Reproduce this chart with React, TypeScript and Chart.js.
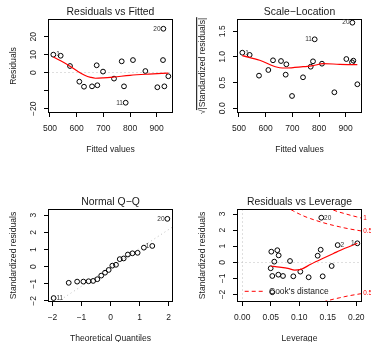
import React, { useEffect, useRef } from "react";
import { Chart, registerables } from "chart.js";

Chart.register(...registerables);

const W = 371;
const H = 342;
const FONT = '"Liberation Sans", Arial, Helvetica, sans-serif';
const TEXT = "#1a1a1a";
const RED = "#ff0000";

// ---------- data: Residuals vs Fitted / Scale-Location ----------
const fitted = [512.5, 540, 575, 610, 627.5, 657.5, 675, 677.5, 698.8, 740, 768.8, 777.4, 783.7, 811, 857.5, 902.4, 925, 923.6, 928.7, 943.6];
const residuals = [10.0, 9.4, 3.7, -5.0, -7.8, -7.6, 4.1, -7.0, 0.6, -3.3, 6.3, -7.6, -16.7, 7.0, 0.9, -8.1, 24.4, 7.0, -7.6, -2.0];
const sqrtAbsStdResid = [1.083, 1.04, 0.636, 0.746, 0.935, 0.921, 0.655, 0.857, 0.24, 0.604, 0.81, 0.915, 1.344, 0.869, 0.312, 0.96, 1.668, 0.896, 0.928, 0.468];
const smoothResX = [512.5, 540, 575, 602.5, 630, 652.5, 670, 700, 740, 800, 870, 943.6];
const smoothResY = [8.7, 6.6, 3.6, 0.9, -1.4, -2.6, -3.1, -2.9, -2.4, -1.5, -0.8, -0.2];
const smoothScaleX = [512.5, 577.5, 652.5, 677.5, 740, 777.5, 815, 877.5, 943.6];
const smoothScaleY = [1.025, 0.935, 0.79, 0.785, 0.81, 0.83, 0.87, 0.857, 0.85];

// ---------- data: Normal Q-Q ----------
const theoreticalQ = [-1.96, -1.44, -1.15, -0.935, -0.755, -0.598, -0.454, -0.319, -0.189, -0.063, 0.063, 0.189, 0.319, 0.454, 0.598, 0.755, 0.935, 1.15, 1.44, 1.96];
const sortedStdResid = [-1.83, -0.94, -0.87, -0.87, -0.85, -0.83, -0.73, -0.52, -0.35, -0.19, 0.06, 0.11, 0.44, 0.48, 0.71, 0.78, 0.81, 1.11, 1.21, 2.79];
const qqLineX = [-2.3, 2.3];
const qqLineY = [-2.57, 2.49];

// ---------- data: Residuals vs Leverage ----------
const leverage = [0.0498, 0.0509, 0.0526, 0.0526, 0.0561, 0.0614, 0.0638, 0.0632, 0.0714, 0.0837, 0.0895, 0.1018, 0.1164, 0.1322, 0.1375, 0.1386, 0.141, 0.1568, 0.1673, 0.2018];
const levStdResid = [-0.37, 0.66, -0.85, -1.86, 0.04, 0.75, 0.43, -0.77, -0.85, 0.08, -0.87, -0.58, -0.93, 0.41, 0.78, 2.77, -0.87, -0.23, 1.07, 1.18];
const smoothLevX = [0.0498, 0.065, 0.08, 0.092, 0.101, 0.12, 0.14, 0.16, 0.18, 0.2018];
const smoothLevY = [-0.23, -0.3, -0.38, -0.48, -0.46, -0.12, 0.22, 0.55, 0.87, 1.18];
const cookH = [0.075, 0.08, 0.09, 0.1, 0.11, 0.12, 0.13, 0.14, 0.15, 0.16, 0.17, 0.18, 0.19, 0.2, 0.21];
const cookHalfUpper = [3.51, 3.39, 3.18, 3.0, 2.84, 2.71, 2.59, 2.48, 2.38, 2.29, 2.21, 2.13, 2.06, 2.0, 1.94];
const cookOneUpper = [4.96, 4.8, 4.5, 4.24, 4.02, 3.83, 3.66, 3.5, 3.37, 3.24, 3.12, 3.02, 2.92, 2.83, 2.74];
const cookHalfLower = [-3.51, -3.39, -3.18, -3.0, -2.84, -2.71, -2.59, -2.48, -2.38, -2.29, -2.21, -2.13, -2.06, -2.0, -1.94];
const cookLabelText = ["1", "0.5", "0.5"];
const cookLabelY = [2.75, 1.94, -1.94];

// ---------- ticks ----------
const fittedTicks = [500, 600, 700, 800, 900];
const fittedTickLabels = ["500", "600", "700", "800", "900"];
const residTicks = [-20, -10, 0, 10, 20];
const residTickLabels = ["\u221220", null, "0", "10", "20"];
const scaleTicks = [0, 0.5, 1, 1.5];
const scaleTickLabels = ["0.0", "0.5", "1.0", "1.5"];
const qTicks = [-2, -1, 0, 1, 2];
const qTickLabels = ["\u22122", "\u22121", "0", "1", "2"];
const stdTicks = [-2, -1, 0, 1, 2, 3];
const stdTickLabels = ["\u22122", "\u22121", "0", "1", "2", "3"];
const levTicks = [0, 0.05, 0.1, 0.15, 0.2];
const levTickLabels = ["0.00", "0.05", "0.10", "0.15", "0.20"];

// ---------- point identification labels ----------
const idxRes = [16, 12, 0];
const txtRes = ["20", "11", "1"];
const sideRes = ["l", "l", "r"];
const idxQQ = [19, 0, 18];
const txtQQ = ["20", "11", "1"];
const sideQQ = ["l", "r", "l"];
const idxLev = [15, 18, 19];
const txtLev = ["20", "2", "1"];
const sideLev = ["r", "r", "l"];

const pts = (xs: number[], ys: number[]) => xs.map((x, i) => ({ x, y: ys[i] }));

const scatterDs = (data: any) => ({
  data,
  showLine: false,
  pointStyle: "circle",
  pointRadius: 2.4,
  pointBorderWidth: 1,
  pointBorderColor: "#000",
  pointBackgroundColor: "rgba(0,0,0,0)",
});

const lineDs = (data: any, color: string, width: number, dash: number[] = []) => ({
  data,
  showLine: true,
  pointRadius: 0,
  borderColor: color,
  borderWidth: width,
  borderDash: dash,
  fill: false,
  cubicInterpolationMode: "monotone",
});

type Spec = {
  key: string;
  box: { left: number; top: number; right: number; bottom: number };
  xr: [number, number];
  yr: [number, number];
  xTicks: number[];
  xLabels: (string | null)[];
  yTicks: number[];
  yLabels: (string | null)[];
  title: string;
  xTitle: string;
  yTitle: string;
  sqrtTitle?: boolean;
  hZero?: boolean;
  vZero?: boolean;
  datasets: any[];
  ids: { x: number; y: number; t: string; side: string }[];
  cook?: boolean;
};

const mkIds = (xs: number[], ys: number[], idx: number[], txt: string[], side: string[]) =>
  idx.map((k, i) => ({ x: xs[k], y: ys[k], t: txt[i], side: side[i] }));

const specs: Spec[] = [
  {
    key: "p1",
    box: { left: 48.5, top: 19.5, right: 172.5, bottom: 112.5 },
    xr: [494.4, 959.2],
    yr: [-22.13, 29.54],
    xTicks: fittedTicks,
    xLabels: fittedTickLabels,
    yTicks: residTicks,
    yLabels: residTickLabels,
    title: "Residuals vs Fitted",
    xTitle: "Fitted values",
    yTitle: "Residuals",
    hZero: true,
    datasets: [
      lineDs(pts(smoothResX, smoothResY), RED, 1.2),
      scatterDs(pts(fitted, residuals)),
    ],
    ids: mkIds(fitted, residuals, idxRes, txtRes, sideRes),
  },
  {
    key: "p2",
    box: { left: 237.5, top: 19.5, right: 361.5, bottom: 112.5 },
    xr: [494.4, 959.2],
    yr: [-0.082, 1.73],
    xTicks: fittedTicks,
    xLabels: fittedTickLabels,
    yTicks: scaleTicks,
    yLabels: scaleTickLabels,
    title: "Scale\u2212Location",
    xTitle: "Fitted values",
    yTitle: "|Standardized residuals|",
    sqrtTitle: true,
    datasets: [
      lineDs(pts(smoothScaleX, smoothScaleY), RED, 1.2),
      scatterDs(pts(fitted, sqrtAbsStdResid)),
    ],
    ids: mkIds(fitted, sqrtAbsStdResid, idxRes, txtRes, sideRes),
  },
  {
    key: "p3",
    box: { left: 48.5, top: 209.5, right: 172.5, bottom: 301.5 },
    xr: [-2.137, 2.137],
    yr: [-2.03, 3.335],
    xTicks: qTicks,
    xLabels: qTickLabels,
    yTicks: stdTicks,
    yLabels: stdTickLabels,
    title: "Normal Q\u2212Q",
    xTitle: "Theoretical Quantiles",
    yTitle: "Standardized residuals",
    datasets: [
      scatterDs(pts(theoreticalQ, sortedStdResid)),
      lineDs(pts(qqLineX, qqLineY), "#bebebe", 1, [1, 3]),
    ],
    ids: mkIds(theoreticalQ, sortedStdResid, idxQQ, txtQQ, sideQQ),
  },
  {
    key: "p4",
    box: { left: 237.5, top: 209.5, right: 361.5, bottom: 301.5 },
    xr: [-0.00842, 0.2091],
    yr: [-2.435, 3.28],
    xTicks: levTicks,
    xLabels: levTickLabels,
    yTicks: stdTicks,
    yLabels: stdTickLabels,
    title: "Residuals vs Leverage",
    xTitle: "Leverage",
    yTitle: "Standardized residuals",
    hZero: true,
    vZero: true,
    cook: true,
    datasets: [
      lineDs(pts(smoothLevX, smoothLevY), RED, 1.2),
      scatterDs(pts(leverage, levStdResid)),
      lineDs(pts(cookH, cookHalfUpper), RED, 1, [4, 3]),
      lineDs(pts(cookH, cookOneUpper), RED, 1, [4, 3]),
      lineDs(pts(cookH, cookHalfLower), RED, 1, [4, 3]),
    ],
    ids: mkIds(leverage, levStdResid, idxLev, txtLev, sideLev),
  },
];

const crisp = (v: number) => Math.floor(v) + 0.5;

const makePlugin = (s: Spec) => ({
  id: "rplot_" + s.key,
  beforeDatasetsDraw(chart: any) {
    const { ctx, chartArea: a, scales } = chart;
    const x = scales.x;
    const y = scales.y;
    ctx.save();
    ctx.beginPath();
    ctx.rect(a.left, a.top, a.right - a.left, a.bottom - a.top);
    ctx.clip();
    ctx.strokeStyle = "#bebebe";
    ctx.lineWidth = 1;
    ctx.setLineDash([1, 3]);
    if (s.hZero) {
      const py = crisp(y.getPixelForValue(0));
      ctx.beginPath();
      ctx.moveTo(a.left, py);
      ctx.lineTo(a.right, py);
      ctx.stroke();
    }
    if (s.vZero) {
      const px = crisp(x.getPixelForValue(0));
      ctx.beginPath();
      ctx.moveTo(px, a.top);
      ctx.lineTo(px, a.bottom);
      ctx.stroke();
    }
    ctx.restore();
  },
  afterDraw(chart: any) {
    const { ctx, chartArea: a, scales } = chart;
    const x = scales.x;
    const y = scales.y;
    ctx.save();
    ctx.setLineDash([]);
    ctx.strokeStyle = "#000";
    ctx.lineWidth = 1;
    // box
    ctx.strokeRect(a.left, a.top, a.right - a.left, a.bottom - a.top);
    // x axis ticks + labels
    ctx.fillStyle = TEXT;
    ctx.font = `8.5px ${FONT}`;
    ctx.textAlign = "center";
    ctx.textBaseline = "alphabetic";
    s.xTicks.forEach((v, i) => {
      const px = crisp(x.getPixelForValue(v));
      ctx.beginPath();
      ctx.moveTo(px, a.bottom);
      ctx.lineTo(px, a.bottom + 4.5);
      ctx.stroke();
      const lab = s.xLabels[i];
      if (lab) ctx.fillText(lab, x.getPixelForValue(v), a.bottom + 18.5);
    });
    // y axis ticks + labels
    s.yTicks.forEach((v, i) => {
      const py = crisp(y.getPixelForValue(v));
      ctx.beginPath();
      ctx.moveTo(a.left, py);
      ctx.lineTo(a.left - 4.5, py);
      ctx.stroke();
      const lab = s.yLabels[i];
      if (lab) {
        ctx.save();
        ctx.translate(a.left - 12.3, y.getPixelForValue(v));
        ctx.rotate(-Math.PI / 2);
        ctx.fillText(lab, 0, 0);
        ctx.restore();
      }
    });
    // title
    ctx.font = `10.4px ${FONT}`;
    ctx.fillText(s.title, (a.left + a.right) / 2, a.top - 4.2);
    // x title
    ctx.font = `8.6px ${FONT}`;
    ctx.fillText(s.xTitle, (a.left + a.right) / 2, a.bottom + 39.8);
    // y title
    ctx.save();
    ctx.translate(a.left - 32.5, (a.top + a.bottom) / 2);
    ctx.rotate(-Math.PI / 2);
    if (s.sqrtTitle) {
      const root = "\u221A";
      const rw = ctx.measureText(root).width;
      const tw = ctx.measureText(s.yTitle).width;
      const total = rw + tw;
      ctx.textAlign = "left";
      ctx.fillText(root, -total / 2, 0);
      ctx.fillText(s.yTitle, -total / 2 + rw, 0);
      ctx.beginPath();
      ctx.moveTo(-total / 2 + rw - 0.5, -8.3);
      ctx.lineTo(total / 2 + 0.5, -8.3);
      ctx.stroke();
    } else {
      ctx.fillText(s.yTitle, 0, 0);
    }
    ctx.restore();
    // identification labels
    ctx.font = `6.5px ${FONT}`;
    ctx.fillStyle = "#333";
    ctx.textBaseline = "middle";
    s.ids.forEach((d) => {
      const px = x.getPixelForValue(d.x);
      const py = y.getPixelForValue(d.y);
      if (d.side === "l") {
        ctx.textAlign = "right";
        ctx.fillText(d.t, px - 2.8, py);
      } else {
        ctx.textAlign = "left";
        ctx.fillText(d.t, px + 2.8, py);
      }
    });
    if (s.cook) {
      // contour labels in the right margin
      ctx.fillStyle = RED;
      ctx.textAlign = "left";
      ctx.font = `6.3px ${FONT}`;
      cookLabelText.forEach((t, i) => {
        ctx.fillText(t, a.right + 1.8, y.getPixelForValue(cookLabelY[i]));
      });
      // legend
      const ly = a.bottom - 10.2;
      ctx.strokeStyle = RED;
      ctx.setLineDash([4, 3]);
      ctx.beginPath();
      ctx.moveTo(a.left + 7.2, ly);
      ctx.lineTo(a.left + 27.2, ly);
      ctx.stroke();
      ctx.setLineDash([]);
      ctx.fillStyle = TEXT;
      ctx.font = `8.5px ${FONT}`;
      ctx.textBaseline = "middle";
      ctx.fillText("Cook's distance", a.left + 31.5, ly);
    }
    ctx.restore();
  },
});

function Panel({ spec }: { spec: Spec }) {
  const ref = useRef<HTMLCanvasElement | null>(null);
  useEffect(() => {
    const canvas = ref.current;
    if (!canvas) return;
    const b = spec.box;
    const chart = new Chart(canvas, {
      type: "scatter",
      data: { datasets: spec.datasets as any },
      options: {
        responsive: false,
        animation: false,
        events: [],
        layout: {
          padding: { left: b.left, top: b.top, right: W - b.right, bottom: H - b.bottom },
        },
        scales: {
          x: { type: "linear", min: spec.xr[0], max: spec.xr[1], display: false },
          y: { type: "linear", min: spec.yr[0], max: spec.yr[1], display: false },
        },
        plugins: {
          legend: { display: false },
          title: { display: false },
          tooltip: { enabled: false },
        },
      } as any,
      plugins: [makePlugin(spec) as any],
    });
    return () => chart.destroy();
  }, [spec]);
  return (
    <canvas
      ref={ref}
      width={W}
      height={H}
      style={{ position: "absolute", left: 0, top: 0, width: W, height: H }}
    />
  );
}

export default function App() {
  return (
    <div style={{ position: "absolute", left: 0, top: 0, width: W, height: H, background: "#fff", overflow: "hidden" }}>
      {specs.map((s) => (
        <Panel key={s.key} spec={s} />
      ))}
    </div>
  );
}
